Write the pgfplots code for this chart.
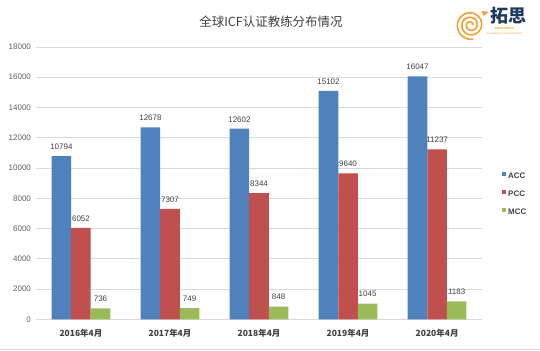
\documentclass[border=0pt]{standalone}
\usepackage{pgfplots}
\pgfplotsset{compat=1.18}
\usepackage{fontspec}
\setmainfont{Liberation Sans}
\newfontfamily\cjk{Noto Sans CJK SC}
\definecolor{cacc}{HTML}{4F81BD}
\definecolor{cpcc}{HTML}{C0504D}
\definecolor{cmcc}{HTML}{9BBB59}
\definecolor{txt}{HTML}{404040}
\definecolor{tickc}{HTML}{606060}
\definecolor{gridc}{HTML}{D9D9D9}
\definecolor{logoor}{HTML}{F0A030}
\definecolor{logonavy}{HTML}{1F3A5F}
\begin{document}
\begin{tikzpicture}
\fill[white] (0pt,0pt) rectangle (540pt,351pt);
\draw[gridc,line width=1pt] (0pt,0.5pt) -- (540pt,0.5pt);
\node[font=\cjk\fontsize{12.5}{14}\selectfont, text=txt] at (271pt,329pt) {全球ICF认证教练分布情况};
% logo
\begin{scope}[shift={(471pt,326pt)}]
\draw[logoor,line width=1.6pt] plot[domain=0:1000,samples=120,smooth] ({(2+\x/80)*cos(\x)*1pt},{(2+\x/80)*sin(\x)*1pt});
\fill[logoor] (13pt,9pt) -- (18pt,13pt) -- (11pt,14pt) -- cycle;
\end{scope}
\node[font=\cjk\bfseries\fontsize{18}{19}\selectfont, text=logonavy] at (509pt,335pt) {拓思};
\node[font=\fontsize{3}{3}\selectfont\bfseries, text=logoor] at (505pt,322pt) {ENRICHMENT};
\node[font=\fontsize{2.5}{3}\selectfont, text=logoor] at (505pt,317pt) {Consulting \& Coaching Institute};
\begin{axis}[
  at={(36pt,31pt)}, anchor=south west,
  scale only axis, width=446pt, height=273pt,
  ymin=0, ymax=18000, ytick={0,2000,...,18000},
  scaled y ticks=false,
  xmin=-0.5, xmax=4.5, xtick={0,1,2,3,4},
  xticklabels={2016年4月,2017年4月,2018年4月,2019年4月,2020年4月},
  x tick label style={font=\cjk\bfseries\fontsize{8.5}{10}\selectfont, text=txt, yshift=-6pt},
  y tick label style={font=\fontsize{8}{9}\selectfont, text=tickc, xshift=-2pt},
  yticklabel={\pgfmathprintnumber[fixed,precision=0,1000 sep={},assume math mode=true]{\tick}},
  ybar=0pt, bar width=19.6pt,
  axis line style={draw=none},
  major tick length=0pt,
  xmajorgrids=false, ymajorgrids=true, grid style={draw=gridc, line width=0.8pt},
  nodes near coords,
  nodes near coords style={font=\fontsize{8}{9}\selectfont, text=txt, yshift=3pt,
    /pgf/number format/fixed, /pgf/number format/precision=0, /pgf/number format/1000 sep={}, /pgf/number format/assume math mode=true},
  legend style={at={(1.038,0.46)}, anchor=west, draw=none, fill=none,
    font=\bfseries\fontsize{8}{9}\selectfont, text=txt, row sep=7pt, cells={anchor=west}},
  legend image code/.code={\fill[#1,draw=none] (0pt,0pt) rectangle (4.5pt,4.5pt);},
  clip=false,
]
\addplot[fill=cacc, draw=none] coordinates {(0,10794) (1,12678) (2,12602) (3,15102) (4,16047)};
\addplot[fill=cpcc, draw=none] coordinates {(0,6052) (1,7307) (2,8344) (3,9640) (4,11237)};
\addplot[fill=cmcc, draw=none] coordinates {(0,736) (1,749) (2,848) (3,1045) (4,1183)};
\legend{ACC,PCC,MCC}
\end{axis}
\end{tikzpicture}
\end{document}
